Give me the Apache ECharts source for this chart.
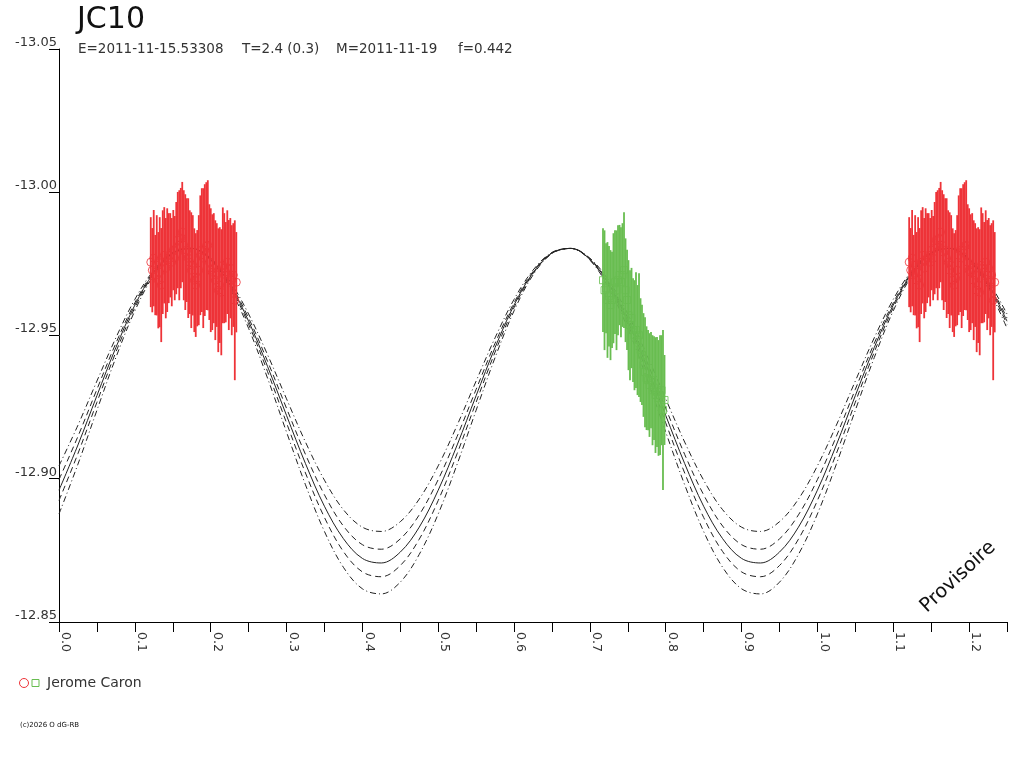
<!DOCTYPE html>
<html>
<head>
<meta charset="utf-8">
<script src="https://cdn.jsdelivr.net/npm/echarts@6/dist/echarts.min.js"></script>
<style>
html,body{margin:0;padding:0;background:#fff;}
#c{width:1024px;height:768px;}
</style>
</head>
<body>
<div id="c"></div>
<script>
// ---- data ----
const titleText = 'JC10';
const infoTexts = ['E=2011-11-15.53308', 'T=2.4 (0.3)', 'M=2011-11-19', 'f=0.442'];
const observer = 'Jerome Caron';

const curvePhase = [0,0.025,0.05,0.075,0.1,0.125,0.15,0.175,0.2,0.225,0.25,0.275,0.3,0.325,0.35,0.375,0.4,0.425,0.45,0.475,
                    0.5,0.525,0.55,0.575,0.6,0.625,0.65,0.675,0.7,0.725,0.75,0.775,0.8,0.825,0.85,0.875,0.9,0.925,0.95,0.975,
                    1.0,1.025,1.05,1.075,1.1,1.125,1.15,1.175,1.2,1.225,1.25];
const fitOuterUp = [-12.9045,-12.9187,-12.9341,-12.9492,-12.9626,-12.9728,-12.9790,-12.9804,-12.9770,-12.9691,
                    -12.9575,-12.9433,-12.9279,-12.9128,-12.8995,-12.8892,-12.8831,-12.8816,-12.8850,-12.8929,
                    -12.9045,-12.9187,-12.9341,-12.9492,-12.9626,-12.9728,-12.9790,-12.9804,-12.9770,-12.9691,
                    -12.9575,-12.9433,-12.9279,-12.9128,-12.8995,-12.8892,-12.8831,-12.8816,-12.8850,-12.8929,
                    -12.9045,-12.9187,-12.9341,-12.9492,-12.9626,-12.9728,-12.9790,-12.9804,-12.9770,-12.9691,-12.9575];
const fitInnerUp = [-12.8997,-12.9148,-12.9312,-12.9473,-12.9614,-12.9723,-12.9789,-12.9804,-12.9768,-12.9684,
                    -12.9561,-12.9410,-12.9246,-12.9085,-12.8944,-12.8835,-12.8770,-12.8754,-12.8790,-12.8874,
                    -12.8997,-12.9148,-12.9312,-12.9473,-12.9614,-12.9723,-12.9789,-12.9804,-12.9768,-12.9684,
                    -12.9561,-12.9410,-12.9246,-12.9085,-12.8944,-12.8835,-12.8770,-12.8754,-12.8790,-12.8874,
                    -12.8997,-12.9148,-12.9312,-12.9473,-12.9614,-12.9723,-12.9789,-12.9804,-12.9768,-12.9684,-12.9561];
const fitMid     = [-12.8960,-12.9118,-12.9290,-12.9458,-12.9606,-12.9719,-12.9788,-12.9804,-12.9766,-12.9679,
                    -12.9550,-12.9392,-12.9221,-12.9053,-12.8904,-12.8791,-12.8722,-12.8706,-12.8744,-12.8831,
                    -12.8960,-12.9118,-12.9290,-12.9458,-12.9606,-12.9719,-12.9788,-12.9804,-12.9766,-12.9679,
                    -12.9550,-12.9392,-12.9221,-12.9053,-12.8904,-12.8791,-12.8722,-12.8706,-12.8744,-12.8831,
                    -12.8960,-12.9118,-12.9290,-12.9458,-12.9606,-12.9719,-12.9788,-12.9804,-12.9766,-12.9679,-12.9550];
const fitInnerLo = [-12.8924,-12.9088,-12.9267,-12.9442,-12.9597,-12.9716,-12.9787,-12.9804,-12.9765,-12.9673,
                    -12.9539,-12.9374,-12.9195,-12.9020,-12.8865,-12.8746,-12.8675,-12.8658,-12.8697,-12.8789,
                    -12.8924,-12.9088,-12.9267,-12.9442,-12.9597,-12.9716,-12.9787,-12.9804,-12.9765,-12.9673,
                    -12.9539,-12.9374,-12.9195,-12.9020,-12.8865,-12.8746,-12.8675,-12.8658,-12.8697,-12.8789,
                    -12.8924,-12.9088,-12.9267,-12.9442,-12.9597,-12.9716,-12.9787,-12.9804,-12.9765,-12.9673,-12.9539];
const fitOuterLo = [-12.8877,-12.9051,-12.9239,-12.9423,-12.9586,-12.9711,-12.9786,-12.9804,-12.9763,-12.9666,
                    -12.9525,-12.9351,-12.9163,-12.8979,-12.8816,-12.8691,-12.8616,-12.8598,-12.8639,-12.8736,
                    -12.8877,-12.9051,-12.9239,-12.9423,-12.9586,-12.9711,-12.9786,-12.9804,-12.9763,-12.9666,
                    -12.9525,-12.9351,-12.9163,-12.8979,-12.8816,-12.8691,-12.8616,-12.8598,-12.8639,-12.8736,
                    -12.8877,-12.9051,-12.9239,-12.9423,-12.9586,-12.9711,-12.9786,-12.9804,-12.9763,-12.9666,-12.9525];

const redPhase = [0.1210,0.1230,0.1249,0.1269,0.1289,0.1309,0.1328,0.1348,0.1368,0.1388,
                  0.1408,0.1427,0.1447,0.1467,0.1487,0.1507,0.1526,0.1546,0.1566,0.1586,
                  0.1606,0.1625,0.1645,0.1665,0.1685,0.1704,0.1724,0.1744,0.1764,0.1784,
                  0.1803,0.1823,0.1843,0.1863,0.1883,0.1902,0.1922,0.1942,0.1962,0.1982,
                  0.2001,0.2021,0.2041,0.2061,0.2080,0.2100,0.2120,0.2140,0.2160,0.2179,
                  0.2199,0.2219,0.2239,0.2259,0.2278,0.2298,0.2318,0.2338];
const redMag = [-12.9756,-12.9728,-12.9770,-12.9711,-12.9745,-12.9693,-12.9721,-12.9676,-12.9756,-12.9780,
                -12.9735,-12.9763,-12.9770,-12.9780,-12.9756,-12.9798,-12.9770,-12.9805,-12.9833,-12.9815,
                -12.9840,-12.9861,-12.9815,-12.9791,-12.9798,-12.9770,-12.9756,-12.9728,-12.9745,-12.9693,
                -12.9676,-12.9700,-12.9728,-12.9780,-12.9798,-12.9770,-12.9798,-12.9812,-12.9815,-12.9756,
                -12.9728,-12.9721,-12.9735,-12.9693,-12.9711,-12.9658,-12.9676,-12.9651,-12.9745,-12.9735,
                -12.9721,-12.9756,-12.9711,-12.9735,-12.9693,-12.9711,-12.9623,-12.9686];
const redErr = [0.0157,0.0147,0.0168,0.0140,0.0175,0.0168,0.0192,0.0199,0.0181,0.0168,
                0.0175,0.0181,0.0157,0.0147,0.0154,0.0140,0.0147,0.0161,0.0168,0.0192,
                0.0175,0.0175,0.0192,0.0202,0.0181,0.0209,0.0181,0.0202,0.0175,0.0181,
                0.0181,0.0168,0.0192,0.0209,0.0216,0.0244,0.0230,0.0223,0.0227,0.0202,
                0.0216,0.0202,0.0192,0.0209,0.0181,0.0216,0.0202,0.0220,0.0202,0.0192,
                0.0175,0.0181,0.0192,0.0175,0.0192,0.0181,0.0279,0.0175];

const greenPhase = [0.7173,0.7193,0.7213,0.7232,0.7252,0.7272,0.7292,0.7311,0.7331,0.7351,
                    0.7371,0.7391,0.7410,0.7430,0.7450,0.7470,0.7490,0.7509,0.7529,0.7549,
                    0.7569,0.7588,0.7608,0.7628,0.7648,0.7668,0.7687,0.7707,0.7727,0.7747,
                    0.7767,0.7786,0.7806,0.7826,0.7846,0.7865,0.7885,0.7905,0.7925,0.7945,
                    0.7964,0.7984];
const greenMag = [-12.9693,-12.9658,-12.9665,-12.9624,-12.9637,-12.9606,-12.9624,-12.9665,-12.9686,-12.9658,
                  -12.9693,-12.9711,-12.9686,-12.9711,-12.9728,-12.9658,-12.9624,-12.9571,-12.9536,-12.9561,
                  -12.9519,-12.9501,-12.9519,-12.9484,-12.9501,-12.9449,-12.9432,-12.9397,-12.9372,-12.9351,
                  -12.9344,-12.9327,-12.9344,-12.9309,-12.9316,-12.9292,-12.9303,-12.9282,-12.9292,-12.9309,
                  -12.9240,-12.9275];
const greenErr = [0.0181,0.0209,0.0157,0.0202,0.0175,0.0192,0.0168,0.0192,0.0181,0.0209,
                  0.0192,0.0175,0.0192,0.0181,0.0202,0.0181,0.0175,0.0192,0.0192,0.0175,
                  0.0181,0.0192,0.0202,0.0192,0.0216,0.0181,0.0175,0.0181,0.0192,0.0181,
                  0.0175,0.0181,0.0168,0.0192,0.0181,0.0202,0.0192,0.0202,0.0209,0.0192,
                  0.0279,0.0157];

// ---- chart ----
const RED = '#EE3338', GREEN = '#68BD50', INK = '#222';
const FONT = 'DejaVu Sans';
const chart = echarts.init(document.getElementById('c'), null, {renderer: 'canvas'});

const redPhaseAll = redPhase.concat(redPhase.map(p => p + 1));
const redMagAll = redMag.concat(redMag);
const redErrAll = redErr.concat(redErr);

function rows(ph, mg, er) { return ph.map((p, i) => [p, mg[i], er[i]]); }
function curve(vals) { return curvePhase.map((p, i) => [p, vals[i]]); }

function errBars(color) {
  return function (params, api) {
    const x = api.value(0), v = api.value(1), e = api.value(2);
    const a = api.coord([x, v - e]);
    const b = api.coord([x, v + e]);
    return {type: 'line', shape: {x1: a[0], y1: a[1], x2: b[0], y2: b[1]},
            style: {stroke: color, lineWidth: 1.8}};
  };
}

function fitSeries(vals, dash, z) {
  return {type: 'line', data: curve(vals), smooth: 0.35, showSymbol: false, symbol: 'none',
          lineStyle: {color: INK, width: 1, type: dash}, z: z, silent: true};
}

const option = {
  animation: false,
  backgroundColor: '#fff',
  grid: {left: 59, right: 17, top: 49, bottom: 146, containLabel: false},
  xAxis: {
    type: 'value', min: 0, max: 1.25, interval: 0.05,
    axisLine: {show: true, lineStyle: {color: '#000', width: 1}},
    axisTick: {show: true, length: 10, lineStyle: {color: '#000'}},
    splitLine: {show: false},
    axisLabel: {
      rotate: -90, margin: 10, verticalAlign: 'bottom', fontFamily: FONT, fontSize: 12.5, color: '#333',
      showMaxLabel: true,
      formatter: v => (Math.round(v * 20) % 2 === 0 ? v.toFixed(1) : '')
    }
  },
  yAxis: {
    type: 'value', inverse: true, min: -13.05, max: -12.85, interval: 0.05,
    axisLine: {show: true, lineStyle: {color: '#000', width: 1}},
    axisTick: {show: true, length: 10, lineStyle: {color: '#000'}},
    splitLine: {show: false},
    axisLabel: {margin: 2, verticalAlign: 'bottom', fontFamily: FONT, fontSize: 13, color: '#333',
                formatter: v => v.toFixed(2)}
  },
  series: [
    fitSeries(fitOuterUp, [6, 3, 1, 3], 1),
    fitSeries(fitInnerUp, [6, 4], 1),
    fitSeries(fitMid, 'solid', 1),
    fitSeries(fitInnerLo, [6, 4], 1),
    fitSeries(fitOuterLo, [6, 3, 1, 3], 1),
    {type: 'scatter', data: rows(redPhaseAll, redMagAll, redErrAll), symbol: 'circle', symbolSize: 8,
     itemStyle: {color: 'rgba(0,0,0,0)', borderColor: RED, borderWidth: 1}, z: 2, silent: true},
    {type: 'scatter', data: rows(greenPhase, greenMag, greenErr), symbol: 'rect', symbolSize: 7,
     itemStyle: {color: 'rgba(0,0,0,0)', borderColor: GREEN, borderWidth: 1}, z: 2, silent: true},
    {type: 'custom', data: rows(redPhaseAll, redMagAll, redErrAll), renderItem: errBars(RED),
     encode: {x: 0, y: 1}, z: 3, silent: true},
    {type: 'custom', data: rows(greenPhase, greenMag, greenErr), renderItem: errBars(GREEN),
     encode: {x: 0, y: 1}, z: 3, silent: true}
  ],
  graphic: [
    {type: 'text', left: 77, top: 5, style: {text: titleText, font: '30px "' + FONT + '"', fill: '#111'}},
    {type: 'text', x: 78, y: 49, style: {text: infoTexts[0], font: '13.5px "' + FONT + '"', fill: '#333', textVerticalAlign: 'middle'}},
    {type: 'text', x: 242, y: 49, style: {text: infoTexts[1], font: '13.5px "' + FONT + '"', fill: '#333', textVerticalAlign: 'middle'}},
    {type: 'text', x: 336, y: 49, style: {text: infoTexts[2], font: '13.5px "' + FONT + '"', fill: '#333', textVerticalAlign: 'middle'}},
    {type: 'text', x: 458, y: 49, style: {text: infoTexts[3], font: '13.5px "' + FONT + '"', fill: '#333', textVerticalAlign: 'middle'}},
    {type: 'text', x: 958, y: 577, rotation: 0.75,
     style: {text: 'Provisoire', font: '19.5px "' + FONT + '"', fill: '#111', textAlign: 'center', textVerticalAlign: 'middle'}},
    {type: 'circle', shape: {cx: 24, cy: 683, r: 4.5}, style: {fill: 'none', stroke: RED, lineWidth: 1}},
    {type: 'rect', shape: {x: 32, y: 679.5, width: 7, height: 7}, style: {fill: 'none', stroke: GREEN, lineWidth: 1}},
    {type: 'text', x: 47, y: 683, style: {text: observer, font: '14px "' + FONT + '"', fill: '#333', textVerticalAlign: 'middle'}},
    {type: 'text', x: 20, y: 725, style: {text: '(c)2026 O dG-RB', font: '7px "' + FONT + '"', fill: '#111', textVerticalAlign: 'middle'}}
  ]
};
chart.setOption(option);
</script>
</body>
</html>
